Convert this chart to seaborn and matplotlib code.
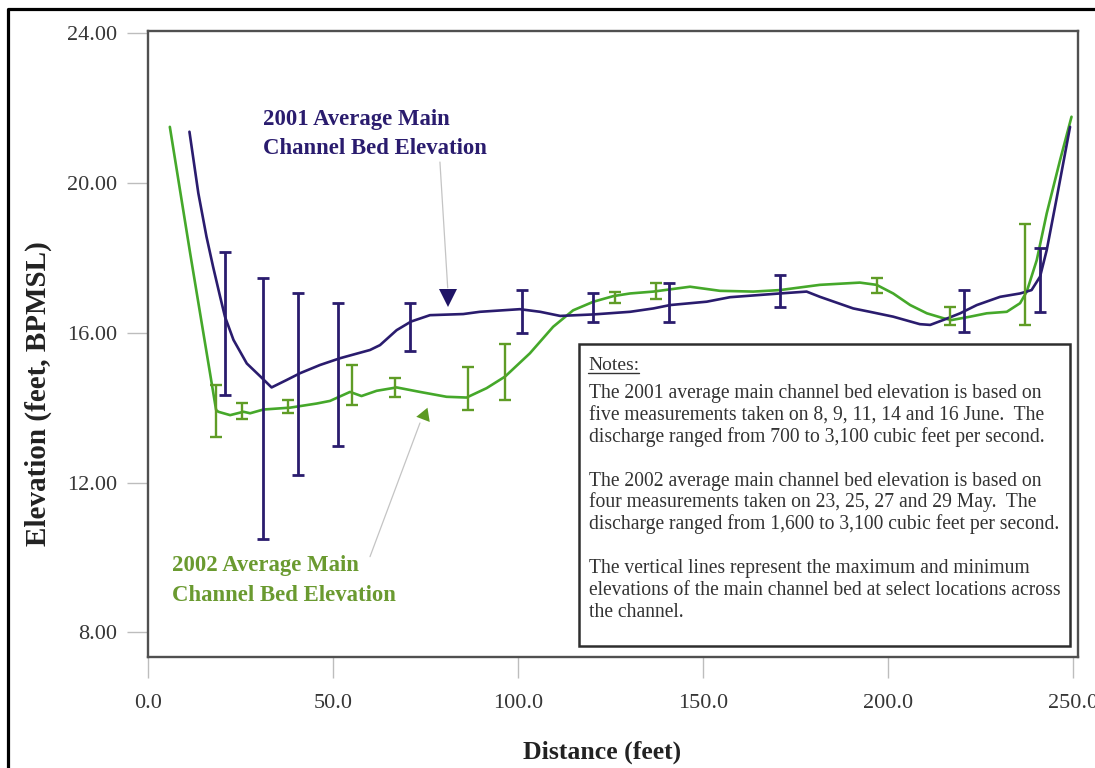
import matplotlib
matplotlib.use("Agg")
import matplotlib.pyplot as plt
from matplotlib.lines import Line2D
from matplotlib.patches import Rectangle
import numpy as np
import pandas as pd
import seaborn as sns

# 2001 average main channel bed elevation profile
dist_2001 = [11.2, 13.6, 15.8, 17.6, 19.5, 20.8, 23.1, 26.7, 30.4, 33.4, 37.5, 41.1,
             46.5, 51.9, 60.0, 62.7, 67.2, 71.1, 76.2, 85.2, 89.7, 100.5, 106.0,
             111.4, 120.4, 130.3, 136.6, 141.1, 151.0, 157.3, 170.8, 178.0, 181.6,
             190.6, 195.1, 201.4, 208.6, 211.4, 214.9, 219.5, 224.0, 230.3, 235.7,
             238.8, 241.1, 242.9, 245.5, 249.2]
elev_2001 = [21.37, 19.73, 18.57, 17.76, 16.96, 16.43, 15.81, 15.18, 14.83, 14.54,
             14.74, 14.92, 15.14, 15.32, 15.54, 15.67, 16.07, 16.30, 16.47, 16.50,
             16.56, 16.63, 16.56, 16.45, 16.49, 16.56, 16.65, 16.74, 16.83, 16.95,
             17.05, 17.10, 16.96, 16.65, 16.56, 16.43, 16.23, 16.21, 16.34, 16.52,
             16.74, 16.96, 17.05, 17.14, 17.50, 18.21, 19.55, 21.50]

# 2002 average main channel bed elevation profile
dist_2002 = [5.9, 11.4, 17.2, 18.4, 19.0, 22.2, 25.8, 27.6, 31.2, 38.4, 45.6, 49.2,
             54.6, 57.7, 61.8, 67.2, 73.5, 80.7, 86.1, 91.5, 96.5, 103.2, 109.5,
             114.9, 120.4, 125.8, 130.3, 136.6, 146.5, 154.6, 163.6, 170.8, 181.6,
             192.4, 196.9, 201.4, 206.0, 210.5, 214.9, 217.2, 222.2, 226.7, 232.1,
             235.7, 237.5, 240.2, 242.9, 246.5, 249.6]
elev_2002 = [21.50, 18.12, 14.66, 13.94, 13.89, 13.80, 13.89, 13.85, 13.95, 14.00,
             14.11, 14.18, 14.42, 14.31, 14.45, 14.54, 14.42, 14.29, 14.27, 14.52,
             14.83, 15.45, 16.16, 16.60, 16.83, 16.98, 17.05, 17.10, 17.23, 17.12,
             17.10, 17.14, 17.28, 17.34, 17.28, 17.05, 16.74, 16.52, 16.39, 16.34,
             16.43, 16.52, 16.56, 16.79, 17.10, 17.94, 19.19, 20.61, 21.77]

# minimum / maximum bed elevation at select locations
range_dist_2001 = [20.8, 31.0, 40.5, 51.4, 70.9, 101.0, 120.4, 140.9, 170.8, 220.6, 241.1]
range_min_2001 = [14.34, 10.48, 12.20, 12.98, 15.51, 16.00, 16.30, 16.30, 16.70, 16.03, 16.56]
range_max_2001 = [18.17, 17.45, 17.05, 16.80, 16.80, 17.15, 17.05, 17.34, 17.54, 17.14, 18.26]

range_dist_2002 = [18.4, 25.3, 37.9, 55.2, 66.8, 86.6, 96.5, 126.2, 137.3, 196.9, 216.8, 237.0]
range_min_2002 = [13.22, 13.69, 13.85, 14.08, 14.29, 13.94, 14.20, 16.79, 16.89, 17.05, 16.21, 16.21]
range_max_2002 = [14.60, 14.13, 14.20, 15.14, 14.80, 15.09, 15.70, 17.10, 17.34, 17.45, 16.70, 18.90]

x_ticks = [0, 50, 100, 150, 200, 250]
x_tick_labels = ["0.0", "50.0", "100.0", "150.0", "200.0", "250.0"]
y_ticks = [8, 12, 16, 20, 24]
y_tick_labels = ["8.00", "12.00", "16.00", "20.00", "24.00"]

label_2001 = "2001 Average Main\nChannel Bed Elevation"
label_2002 = "2002 Average Main\nChannel Bed Elevation"
notes_title = "Notes:"
notes_lines = [
    "The 2001 average main channel bed elevation is based on",
    "five measurements taken on 8, 9, 11, 14 and 16 June.  The",
    "discharge ranged from 700 to 3,100 cubic feet per second.",
    "",
    "The 2002 average main channel bed elevation is based on",
    "four measurements taken on 23, 25, 27 and 29 May.  The",
    "discharge ranged from 1,600 to 3,100 cubic feet per second.",
    "",
    "The vertical lines represent the maximum and minimum",
    "elevations of the main channel bed at select locations across",
    "the channel.",
]

BLUE = "#2a1c6e"
GREEN = "#45a82a"
GREEN_BAR = "#5f9c26"
GREEN_TEXT = "#6a9a30"

W, H, DPI = 1095, 768, 100

sns.set_theme(style="ticks")
plt.rcParams["font.family"] = ["Liberation Serif", "DejaVu Serif"]


def fpos(px, py):
    """Figure-fraction position from pixel offsets (origin top-left)."""
    return px / W, 1 - py / H


fig = plt.figure(figsize=(W / DPI, H / DPI), dpi=DPI, facecolor="white")
ax = fig.add_axes([148 / W, 1 - 657 / H, 930 / W, 626 / H])

df_2001 = pd.DataFrame({"Distance": dist_2001, "Elevation": elev_2001})
df_2002 = pd.DataFrame({"Distance": dist_2002, "Elevation": elev_2002})

sns.lineplot(data=df_2002, x="Distance", y="Elevation", sort=False, estimator=None,
             color=GREEN, linewidth=1.9, ax=ax, zorder=3)
sns.lineplot(data=df_2001, x="Distance", y="Elevation", sort=False, estimator=None,
             color=BLUE, linewidth=1.9, ax=ax, zorder=4)

lo01, hi01 = np.array(range_min_2001), np.array(range_max_2001)
lo02, hi02 = np.array(range_min_2002), np.array(range_max_2002)
ax.errorbar(range_dist_2002, (lo02 + hi02) / 2, yerr=(hi02 - lo02) / 2, fmt="none",
            ecolor=GREEN_BAR, elinewidth=1.7, capsize=4.2, capthick=1.7, zorder=5)
ax.errorbar(range_dist_2001, (lo01 + hi01) / 2, yerr=(hi01 - lo01) / 2, fmt="none",
            ecolor=BLUE, elinewidth=2.0, capsize=4.5, capthick=2.0, zorder=6)

ax.set_xlim(0, 251.35)
ax.set_ylim(7.34, 24.06)
ax.set_xticks(x_ticks, x_tick_labels)
ax.set_yticks(y_ticks, y_tick_labels)
ax.tick_params(axis="both", direction="out", length=15, width=1.0, color="#bdbdbd",
               labelsize=16, labelcolor="#363636")
ax.tick_params(axis="y", pad=7)
ax.tick_params(axis="x", pad=12)
for spine in ax.spines.values():
    spine.set_visible(True)
    spine.set_color("#505050")
    spine.set_linewidth(1.7)

ax.set_xlabel("Distance (feet)", fontsize=18.5, fontweight="bold", color="#222222")
ax.set_ylabel("Elevation (feet, BPMSL)", fontsize=21, fontweight="bold", color="#222222")
ax.xaxis.set_label_coords(0.488, -0.153)
ax.xaxis.label.set_va("center")
ax.yaxis.set_label_coords(-0.118, 0.42)
ax.yaxis.label.set_va("center")

# series annotations with pointer lines
ax.text(31.1, 21.31, label_2001, color=BLUE, fontsize=16.4, fontweight="bold",
        ha="left", va="center", linespacing=1.55, zorder=7)
ax.text(6.5, 9.39, label_2002, color=GREEN_TEXT, fontsize=16.4, fontweight="bold",
        ha="left", va="center", linespacing=1.55, zorder=7)

ax.add_line(Line2D([78.9, 81.0], [20.56, 17.2], color="#c4c4c4", linewidth=0.9, zorder=2))
ax.plot([81.1], [16.93], marker="v", markersize=13, color="#1f1466",
        markeredgewidth=0, linestyle="none", zorder=7)
ax.add_line(Line2D([60.0, 73.5], [10.02, 13.59], color="#c4c4c4", linewidth=0.9, zorder=2))
ax.plot([74.7], [13.81], marker=(3, 0, -21), markersize=12, color="#5c9a22",
        markeredgewidth=0, linestyle="none", zorder=7)

# notes panel
box_x0 = (579.3 - 148) / 930
box_y0 = (657 - 646) / 626
box = Rectangle((box_x0, box_y0), (1070 - 579.3) / 930, (646 - 344) / 626,
                transform=ax.transAxes, facecolor="white", edgecolor="#2e2e2e",
                linewidth=1.8, zorder=8)
ax.add_patch(box)

title = fig.text(*fpos(588, 370), notes_title, fontsize=14.0, color="#333333",
                 ha="left", va="baseline", zorder=9)
for i, line in enumerate(notes_lines):
    fig.text(*fpos(589, 398.3 + i * 21.83), line, fontsize=14.1, color="#333333",
             ha="left", va="baseline", zorder=9)

# outer frame on the left and top edges
fig.add_artist(Line2D([7.5 / W, 7.5 / W, 1.0], [0.0, 1 - 8.5 / H, 1 - 8.5 / H],
                      transform=fig.transFigure, color="black", linewidth=2.3))

fig.canvas.draw()
bb = title.get_window_extent().transformed(fig.transFigure.inverted())
fig.add_artist(Line2D([bb.x0, bb.x1], [1 - 372.5 / H, 1 - 372.5 / H],
                      transform=fig.transFigure, color="#333333", linewidth=1.0,
                      zorder=9))

fig.savefig("out.png", dpi=DPI, facecolor="white")
